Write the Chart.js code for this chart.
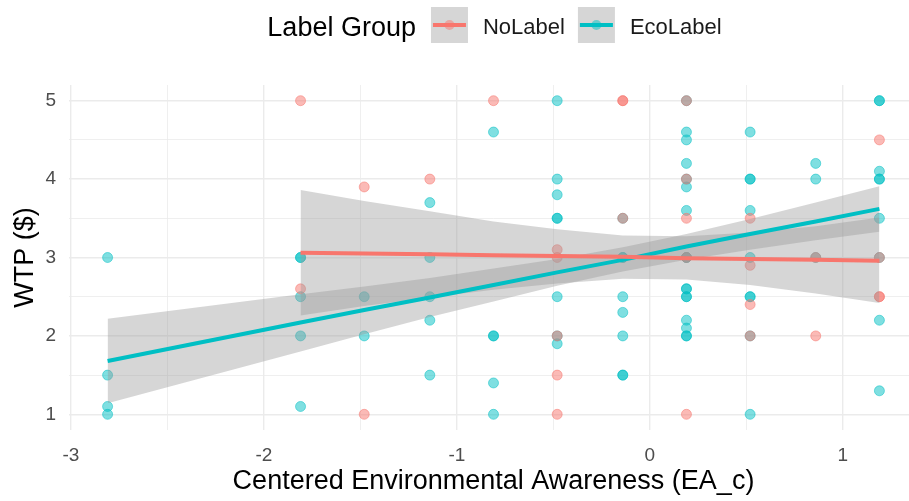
<!DOCTYPE html>
<html>
<head>
<meta charset="utf-8">
<title>WTP by Environmental Awareness</title>
<script src="https://cdn.jsdelivr.net/npm/chart.js@4/dist/chart.umd.min.js"></script>
<style>
  html, body { margin: 0; padding: 0; background: #ffffff; overflow: hidden; }
  #wrap { width: 909px; height: 501px; overflow: hidden; }
</style>
</head>
<body>
<div id="wrap"><canvas id="chart" width="918" height="501"></canvas></div>
<script>
// ---- labels ----
const groups = ['NoLabel', 'EcoLabel'];
const groupColors = ['#F8766D', '#00BFC4'];
const legendTitle = 'Label Group';
const xTitle = 'Centered Environmental Awareness (EA_c)';
const yTitle = 'WTP ($)';
const xTickLabels = ['-3', '-2', '-1', '0', '1'];
const xTickValues = [-3, -2, -1, 0, 1];
const yTickLabels = ['1', '2', '3', '4', '5'];
const yTickValues = [1, 2, 3, 4, 5];

// ---- observations: NoLabel ----
const noLabelEA = [
  -1.81, -1.81,
  -1.48, -1.48,
  -1.14,
  -0.81,
  -0.48, -0.48, -0.48, -0.48, -0.48,
  -0.14, -0.14, -0.14,
  0.19, 0.19, 0.19, 0.19, 0.19,
  0.52, 0.52, 0.52, 0.52,
  0.86, 0.86,
  1.19, 1.19, 1.19, 1.19
];
const noLabelWTP = [
  5.0, 2.6,
  3.9, 1.0,
  4.0,
  5.0,
  3.1, 3.0, 2.0, 1.5, 1.0,
  5.0, 5.0, 3.5,
  5.0, 4.0, 3.5, 3.0, 1.0,
  3.5, 2.9, 2.4, 2.0,
  3.0, 2.0,
  4.5, 3.0, 2.5, 2.5
];

// ---- observations: EcoLabel ----
const ecoLabelEA = [
  -2.81, -2.81, -2.81, -2.81,
  -1.81, -1.81, -1.81, -1.81, -1.81,
  -1.48, -1.48,
  -1.14, -1.14, -1.14, -1.14, -1.14,
  -0.81, -0.81, -0.81, -0.81, -0.81,
  -0.48, -0.48, -0.48, -0.48, -0.48, -0.48, -0.48, -0.48,
  -0.14, -0.14, -0.14, -0.14, -0.14, -0.14, -0.14, -0.14,
  0.19, 0.19, 0.19, 0.19, 0.19, 0.19, 0.19, 0.19, 0.19, 0.19, 0.19, 0.19, 0.19, 0.19, 0.19, 0.19, 0.19,
  0.52, 0.52, 0.52, 0.52, 0.52, 0.52, 0.52, 0.52, 0.52,
  0.86, 0.86, 0.86,
  1.19, 1.19, 1.19, 1.19, 1.19, 1.19, 1.19, 1.19, 1.19
];
const ecoLabelWTP = [
  3.0, 1.5, 1.1, 1.0,
  3.0, 3.0, 2.5, 2.0, 1.1,
  2.5, 2.0,
  3.7, 3.0, 2.5, 2.2, 1.5,
  4.6, 2.0, 2.0, 1.4, 1.0,
  5.0, 4.0, 3.8, 3.5, 3.5, 2.5, 2.0, 1.9,
  3.5, 3.0, 3.0, 2.5, 2.3, 2.0, 1.5, 1.5,
  5.0, 4.6, 4.5, 4.2, 4.0, 3.9, 3.6, 3.0, 3.0, 2.6, 2.6, 2.5, 2.5, 2.2, 2.1, 2.0, 2.0,
  4.6, 4.0, 4.0, 3.6, 3.0, 2.5, 2.5, 2.0, 1.0,
  4.2, 4.0, 3.0,
  5.0, 5.0, 4.1, 4.0, 4.0, 3.5, 3.0, 2.2, 1.3
];

// ---- linear fits with 95% bands ----
const noLabelFitEA  = [-1.81, -1.48, -1.14, -0.81, -0.48, -0.14, 0.19, 0.52, 0.86, 1.19];
const noLabelFit    = [3.06, 3.05, 3.04, 3.03, 3.02, 3.01, 2.99, 2.98, 2.97, 2.96];
const noLabelUpper  = [3.86, 3.72, 3.59, 3.46, 3.36, 3.28, 3.27, 3.32, 3.40, 3.51];
const noLabelLower  = [2.26, 2.38, 2.49, 2.59, 2.67, 2.73, 2.72, 2.65, 2.54, 2.42];

const ecoLabelFitEA = [-2.81, -1.81, -1.48, -1.14, -0.81, -0.48, -0.14, 0.19, 0.52, 0.86, 1.19];
const ecoLabelFit   = [1.68, 2.17, 2.33, 2.49, 2.65, 2.81, 2.97, 3.14, 3.30, 3.46, 3.62];
const ecoLabelUpper = [2.22, 2.53, 2.63, 2.74, 2.86, 2.98, 3.13, 3.30, 3.49, 3.70, 3.91];
const ecoLabelLower = [1.14, 1.80, 2.02, 2.24, 2.44, 2.64, 2.82, 2.97, 3.10, 3.22, 3.33];

// ---- helpers ----
const FONT = '"Liberation Sans", Arial, Helvetica, sans-serif';
const pairs = (xs, ys) => xs.map((x, i) => ({ x: x, y: ys[i] }));
const rgba = (hex, a) => {
  const n = parseInt(hex.slice(1), 16);
  return `rgba(${(n >> 16) & 255}, ${(n >> 8) & 255}, ${n & 255}, ${a})`;
};
const BAND_FILL = 'rgba(153, 153, 153, 0.4)';
const halfSteps = (lo, hi) => {
  const out = [];
  for (let v = lo * 2; v <= hi * 2; v++) out.push(v / 2);
  return out;
};

Chart.defaults.font.family = FONT;

// Legend drawn as one row: title, then key + label per group
const groupLegend = {
  id: 'groupLegend',
  afterDraw(chart) {
    const ctx = chart.ctx;
    const keySize = 37, keyTop = 7, keyMid = 25;
    const titleFont = '27px ' + FONT;
    const labelFont = '22px ' + FONT;
    ctx.save();
    ctx.font = titleFont;
    const titleW = ctx.measureText(legendTitle).width;
    ctx.font = labelFont;
    const labelWs = groups.map(g => ctx.measureText(g).width);
    let total = titleW + 15;
    labelWs.forEach((w, i) => { total += keySize + 15 + w + (i < groups.length - 1 ? 13 : 0); });
    let x = 494.5 - total / 2;

    ctx.fillStyle = '#000000';
    ctx.textBaseline = 'alphabetic';
    ctx.font = titleFont;
    ctx.fillText(legendTitle, x, 36);
    x += titleW + 15;

    groups.forEach((g, i) => {
      ctx.fillStyle = '#D6D6D6';
      ctx.fillRect(x, keyTop, keySize, 36);
      ctx.strokeStyle = groupColors[i];
      ctx.lineWidth = 4;
      ctx.beginPath();
      ctx.moveTo(x + 2, keyMid);
      ctx.lineTo(x + keySize - 2, keyMid);
      ctx.stroke();
      ctx.fillStyle = rgba(groupColors[i], 0.5);
      ctx.beginPath();
      ctx.arc(x + keySize / 2, keyMid, 5, 0, Math.PI * 2);
      ctx.fill();
      x += keySize + 15;
      ctx.fillStyle = '#1A1A1A';
      ctx.font = labelFont;
      ctx.fillText(g, x, 33.5);
      x += labelWs[i] + 13;
    });
    ctx.restore();
  }
};

const lineSet = (label, xs, ys, color) => ({
  type: 'line', label, data: pairs(xs, ys),
  borderColor: color, borderWidth: 4, pointRadius: 0, fill: false,
  tension: 0, order: 1
});
const bandEdge = (label, xs, ys, fill) => ({
  type: 'line', label, data: pairs(xs, ys),
  borderWidth: 0, borderColor: 'rgba(0,0,0,0)', pointRadius: 0,
  backgroundColor: BAND_FILL, fill: fill, tension: 0, order: 2
});
const pointSet = (label, xs, ys, color) => ({
  type: 'scatter', label, data: pairs(xs, ys),
  pointRadius: 5, pointBackgroundColor: rgba(color, 0.5),
  pointBorderColor: rgba(color, 0.5), pointBorderWidth: 1, order: 3
});

new Chart(document.getElementById('chart'), {
  type: 'scatter',
  data: {
    datasets: [
      lineSet(groups[0], noLabelFitEA, noLabelFit, groupColors[0]),
      lineSet(groups[1], ecoLabelFitEA, ecoLabelFit, groupColors[1]),
      bandEdge(groups[0] + ' upper', noLabelFitEA, noLabelUpper, false),
      bandEdge(groups[0] + ' lower', noLabelFitEA, noLabelLower, '-1'),
      bandEdge(groups[1] + ' upper', ecoLabelFitEA, ecoLabelUpper, false),
      bandEdge(groups[1] + ' lower', ecoLabelFitEA, ecoLabelLower, '-1'),
      pointSet(groups[0], noLabelEA, noLabelWTP, groupColors[0]),
      pointSet(groups[1], ecoLabelEA, ecoLabelWTP, groupColors[1])
    ]
  },
  options: {
    responsive: false,
    devicePixelRatio: 1,
    animation: false,
    layout: { autoPadding: false, padding: { top: 85, left: 0, right: 0, bottom: 0 } },
    plugins: { legend: { display: false }, tooltip: { enabled: false } },
    scales: {
      x: {
        type: 'linear', min: -3.01, max: 1.39,
        afterBuildTicks: s => { s.ticks = halfSteps(-3, 1).map(v => ({ value: v })); },
        afterFit: s => { s.height = 71; },
        border: { display: false },
        grid: {
          drawTicks: false, color: '#EBEBEB',
          lineWidth: c => (xTickValues.includes(c.tick && c.tick.value) ? 1.4 : 0.8)
        },
        ticks: {
          autoSkip: false, maxRotation: 0, padding: 14, color: '#4D4D4D',
          font: { size: 19 },
          callback: v => { const k = xTickValues.indexOf(v); return k >= 0 ? xTickLabels[k] : ''; }
        },
        title: {
          display: true, text: xTitle, color: '#000000',
          font: { size: 27 }, padding: { top: 0, bottom: 3 }
        }
      },
      y: {
        type: 'linear', min: 0.8, max: 5.2,
        afterBuildTicks: s => { s.ticks = halfSteps(1, 5).map(v => ({ value: v })); },
        afterFit: s => { s.width = 69; },
        border: { display: false },
        grid: {
          drawTicks: false, color: '#EBEBEB',
          lineWidth: c => (yTickValues.includes(c.tick && c.tick.value) ? 1.4 : 0.8)
        },
        ticks: {
          autoSkip: false, padding: 13, color: '#4D4D4D',
          font: { size: 19 },
          callback: v => { const k = yTickValues.indexOf(v); return k >= 0 ? yTickLabels[k] : ''; }
        },
        title: {
          display: true, text: yTitle, color: '#000000',
          font: { size: 27 }, padding: { top: 9, bottom: 0 }
        }
      }
    }
  },
  plugins: [groupLegend]
});
</script>
</body>
</html>
